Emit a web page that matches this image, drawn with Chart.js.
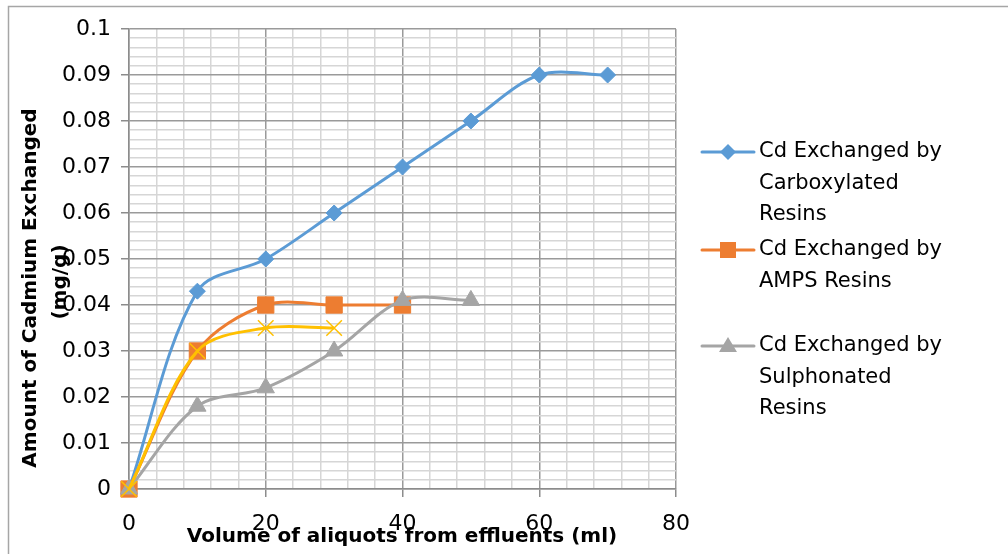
<!DOCTYPE html>
<html>
<head>
<meta charset="utf-8">
<script src="https://cdn.jsdelivr.net/npm/chart.js@4/dist/chart.umd.min.js"></script>
<style>
  html, body { margin: 0; padding: 0; background: #fff; }
  #wrap { width: 1008px; height: 554px; position: relative; }
</style>
</head>
<body>
<div id="wrap"><canvas id="myChart" width="1008" height="554"></canvas></div>
<script>
// valores
var volumes = [0, 10, 20, 30, 40, 50, 60, 70];
var carboxylated = [0, 0.043, 0.05, 0.06, 0.07, 0.08, 0.09, 0.09];
var amps = [0, 0.03, 0.04, 0.04, 0.04];
var ampsHidden = [0, 0.03, 0.035, 0.035];
var sulphonated = [0, 0.018, 0.022, 0.03, 0.041, 0.041];

var legendTexts = [
  ['Cd Exchanged by', 'Carboxylated', 'Resins'],
  ['Cd Exchanged by', 'AMPS Resins'],
  ['Cd Exchanged by', 'Sulphonated', 'Resins']
];
var xTitle = 'Volume of aliquots from effluents (ml)';
var yTitle = ['Amount of Cadmium Exchanged', '(mg/g)'];

var BLUE = '#5B9BD5', ORANGE = '#ED7D31', GRAY = '#A5A5A5', YELLOW = '#FFC000';

function toPoints(ys) {
  return ys.map(function (y, i) { return { x: volumes[i], y: y }; });
}

function isMajorY(v) { return Math.abs(v * 100 - Math.round(v * 100)) < 1e-6; }
function isMajorX(v) { return Math.abs(v % 20) < 1e-6; }

// desenha borda, títulos e legenda
var decorPlugin = {
  id: 'decor',
  beforeDraw: function (chart) {
    var c = chart.ctx;
    c.save();
    c.strokeStyle = '#a6a6a6';
    c.lineWidth = 1.5;
    c.beginPath();
    c.moveTo(8.5, 554); c.lineTo(8.5, 6.5); c.lineTo(1008, 6.5);
    c.stroke();
    c.restore();
  },
  afterDraw: function (chart) {
    var c = chart.ctx;
    c.save();
    c.fillStyle = '#000';
    c.textBaseline = 'middle';
    c.textAlign = 'center';
    c.font = 'bold 20px "DejaVu Sans"';
    c.fillText(xTitle, 402, 537);
    c.save();
    c.translate(31, 288);
    c.rotate(-Math.PI / 2);
    c.fillText(yTitle[0], 0, 0);
    c.restore();
    c.save();
    c.translate(61, 282);
    c.rotate(-Math.PI / 2);
    c.fillText(yTitle[1], 0, 0);
    c.restore();

    var entries = [
      { color: BLUE, style: 'diamond', y: 152 },
      { color: ORANGE, style: 'square', y: 250 },
      { color: GRAY, style: 'triangle', y: 346 }
    ];
    c.font = '21px "DejaVu Sans"';
    c.textAlign = 'left';
    entries.forEach(function (e, i) {
      c.strokeStyle = e.color;
      c.fillStyle = e.color;
      c.lineWidth = 3;
      c.lineCap = 'round';
      c.beginPath();
      c.moveTo(702, e.y); c.lineTo(754, e.y);
      c.stroke();
      var mx = 728, my = e.y;
      c.beginPath();
      if (e.style === 'diamond') {
        c.moveTo(mx - 8, my); c.lineTo(mx, my - 8); c.lineTo(mx + 8, my); c.lineTo(mx, my + 8);
      } else if (e.style === 'square') {
        c.rect(mx - 8, my - 8, 16, 16);
      } else {
        c.moveTo(mx, my - 9); c.lineTo(mx + 9, my + 6); c.lineTo(mx - 9, my + 6);
      }
      c.closePath();
      c.fill();
      c.fillStyle = '#000';
      legendTexts[i].forEach(function (t, j) {
        c.fillText(t, 759, e.y + j * 31.5);
      });
    });
    c.restore();
  }
};

var ctx = document.getElementById('myChart').getContext('2d');
Chart.defaults.font.family = '"DejaVu Sans"';
Chart.defaults.color = '#000';

var chart = new Chart(ctx, {
  type: 'line',
  data: {
    datasets: [{
      label: legendTexts[0].join(' '),
      data: toPoints(carboxylated),
      borderColor: BLUE,
      backgroundColor: BLUE,
      pointStyle: 'rectRot',
      pointRadius: 8,
      order: 4
    }, {
      label: legendTexts[1].join(' '),
      data: toPoints(amps),
      borderColor: ORANGE,
      backgroundColor: ORANGE,
      pointStyle: 'rect',
      pointRadius: 11.5,
      order: 3
    }, {
      label: legendTexts[2].join(' '),
      data: toPoints(sulphonated),
      borderColor: GRAY,
      backgroundColor: GRAY,
      pointStyle: 'triangle',
      pointRadius: 10,
      order: 2
    }, {
      label: 'hidden',
      data: toPoints(ampsHidden),
      borderColor: YELLOW,
      backgroundColor: YELLOW,
      pointStyle: 'crossRot',
      pointRadius: 11,
      pointBorderWidth: 1.5,
      order: 1
    }]
  },
  options: {
    responsive: false,
    animation: false,
    devicePixelRatio: 1,
    layout: { padding: { top: 29, right: 332, bottom: 0, left: 0 } },
    elements: {
      line: { borderWidth: 3, tension: 0.33, fill: false },
      point: { borderWidth: 1 }
    },
    datasets: { line: { clip: false } },
    plugins: { legend: { display: false }, tooltip: { enabled: false } },
    scales: {
      x: {
        type: 'linear',
        min: 0, max: 80,
        afterFit: function (s) { s.height = 65; },
        border: { color: '#8c8c8c', width: 1.5 },
        grid: {
          lineWidth: 1.5,
          tickLength: 8,
          color: function (c) { return isMajorX(c.tick.value) ? '#9a9a9a' : '#d6d6d6'; },
          tickColor: function (c) { return isMajorX(c.tick.value) ? '#8c8c8c' : 'rgba(0,0,0,0)'; }
        },
        ticks: {
          stepSize: 4,
          autoSkip: false,
          maxRotation: 0,
          padding: 14,
          font: { size: 22 },
          callback: function (v) { return isMajorX(v) ? String(v) : ''; }
        }
      },
      y: {
        min: 0, max: 0.1,
        afterFit: function (s) { s.width = 129; },
        border: { color: '#8c8c8c', width: 1.5 },
        grid: {
          lineWidth: 1.5,
          tickLength: 8,
          color: function (c) { return isMajorY(c.tick.value) ? '#9a9a9a' : '#d6d6d6'; },
          tickColor: function (c) { return isMajorY(c.tick.value) ? '#8c8c8c' : 'rgba(0,0,0,0)'; }
        },
        ticks: {
          stepSize: 0.002,
          autoSkip: false,
          padding: 10,
          font: { size: 22 },
          callback: function (v) {
            if (!isMajorY(v)) return '';
            return v === 0 ? '0' : String(+v.toFixed(2));
          }
        }
      }
    }
  },
  plugins: [decorPlugin]
});
</script>
</body>
</html>
